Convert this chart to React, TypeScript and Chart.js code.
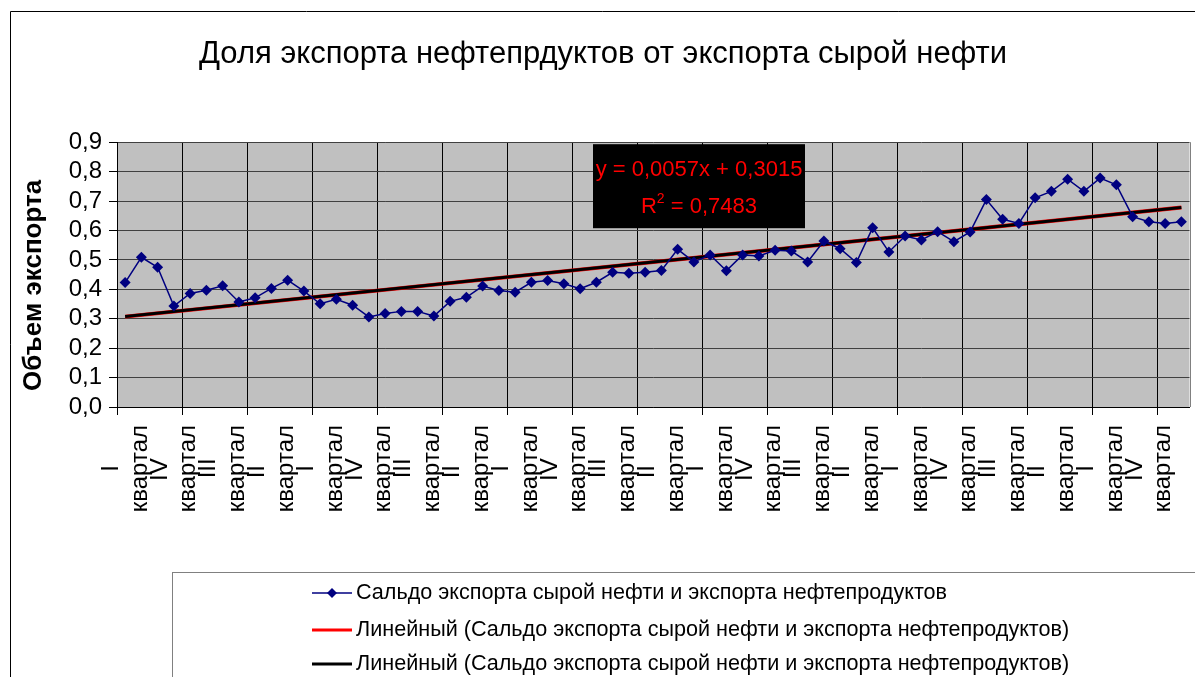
import React, { useEffect, useRef } from "react";
import { Chart, registerables } from "chart.js";

Chart.register(...registerables);

const TITLE = "Доля экспорта нефтепрдуктов от экспорта сырой нефти";
const Y_TITLE = "Объем экспорта";
const SERIES_LABEL = "Сальдо экспорта сырой нефти и экспорта нефтепродуктов";
const TREND_LABEL = "Линейный (Сальдо экспорта сырой нефти и экспорта нефтепродуктов)";
const EQUATION_LINE = "y = 0,0057x + 0,3015";
const R2_VALUE = " = 0,7483";

const CATEGORIES = [
  "I квартал", "II квартал", "III квартал", "IV квартал",
  "I квартал", "II квартал", "III квартал", "IV квартал",
  "I квартал", "II квартал", "III квартал", "IV квартал",
  "I квартал", "II квартал", "III квартал", "IV квартал",
  "I квартал", "II квартал", "III квартал", "IV квартал",
  "I квартал", "II квартал", "III квартал", "IV квартал",
  "I квартал", "II квартал", "III квартал", "IV квартал",
  "I квартал", "II квартал", "III квартал", "IV квартал",
  "I квартал", "II квартал", "III квартал", "IV квартал",
  "I квартал", "II квартал", "III квартал", "IV квартал",
  "I квартал", "II квартал", "III квартал", "IV квартал",
  "I квартал", "II квартал", "III квартал", "IV квартал",
  "I квартал", "II квартал", "III квартал", "IV квартал",
  "I квартал", "II квартал", "III квартал", "IV квартал",
  "I квартал", "II квартал", "III квартал", "IV квартал",
  "I квартал", "II квартал", "III квартал", "IV квартал",
  "I квартал", "II квартал",
];

const VALUES = [
  0.423, 0.509, 0.475, 0.343, 0.386, 0.397, 0.412, 0.357, 0.371, 0.403,
  0.431, 0.394, 0.351, 0.366, 0.346, 0.306, 0.318, 0.325, 0.325, 0.309,
  0.359, 0.373, 0.411, 0.396, 0.390, 0.424, 0.430, 0.419, 0.402, 0.424,
  0.458, 0.455, 0.458, 0.464, 0.536, 0.493, 0.517, 0.463, 0.517, 0.513,
  0.533, 0.530, 0.493, 0.564, 0.538, 0.491, 0.609, 0.527, 0.581, 0.568,
  0.596, 0.562, 0.595, 0.705, 0.638, 0.624, 0.711, 0.733, 0.774, 0.733,
  0.778, 0.755, 0.647, 0.630, 0.624, 0.630,
];

// Linear trend end values (y = 0,0057x + 0,3015 at first and last category)
const TREND_START = 0.3072;
const TREND_END = 0.6777;

const Y_MIN = 0;
const Y_MAX = 0.9;
const Y_STEP = 0.1;

const FONT = "'Liberation Sans', Arial, sans-serif";

function trendData(): (number | null)[] {
  return CATEGORIES.map((_, i) =>
    i === 0 ? TREND_START : i === CATEGORIES.length - 1 ? TREND_END : null
  );
}

const decorPlugin = {
  id: "decor",
  beforeDraw(chart: any) {
    const { ctx, chartArea: a } = chart;
    ctx.save();
    ctx.fillStyle = "#ffffff";
    ctx.fillRect(0, 0, chart.width, chart.height);
    ctx.fillStyle = "#c0c0c0";
    ctx.fillRect(a.left, a.top, a.right - a.left, a.bottom - a.top);
    ctx.restore();
  },
  beforeDatasetsDraw(chart: any) {
    const { ctx, chartArea: a } = chart;
    ctx.save();
    ctx.strokeStyle = "#808080";
    ctx.lineWidth = 1;
    ctx.beginPath();
    ctx.moveTo(Math.round(a.right) + 0.5, a.top);
    ctx.lineTo(Math.round(a.right) + 0.5, a.bottom);
    ctx.stroke();
    ctx.restore();
  },
  afterDraw(chart: any) {
    const { ctx, chartArea: a } = chart;
    ctx.save();
    // outer frame
    ctx.strokeStyle = "#000";
    ctx.lineWidth = 1;
    ctx.beginPath();
    ctx.moveTo(10.5, chart.height);
    ctx.lineTo(10.5, 11.5);
    ctx.lineTo(chart.width, 11.5);
    ctx.stroke();

    // equation box
    const bx = a.left + 476;
    const by = a.top + 2;
    const bw = 212;
    const bh = 84;
    ctx.fillStyle = "#000";
    ctx.fillRect(bx, by, bw, bh);
    ctx.fillStyle = "#ff0000";
    ctx.textBaseline = "middle";
    ctx.textAlign = "center";
    ctx.font = `22px ${FONT}`;
    ctx.fillText(EQUATION_LINE, bx + bw / 2, by + 26);
    const wR = ctx.measureText("R").width;
    const wRest = ctx.measureText(R2_VALUE).width;
    ctx.font = `14px ${FONT}`;
    const w2 = ctx.measureText("2").width;
    const total = wR + w2 + wRest;
    let x = bx + bw / 2 - total / 2;
    ctx.textAlign = "left";
    ctx.font = `22px ${FONT}`;
    ctx.fillText("R", x, by + 63);
    x += wR;
    ctx.font = `14px ${FONT}`;
    ctx.fillText("2", x, by + 55);
    x += w2;
    ctx.font = `22px ${FONT}`;
    ctx.fillText(R2_VALUE, x, by + 63);

    // legend
    const lx = 172.5;
    const ly = 572.5;
    ctx.strokeStyle = "#808080";
    ctx.lineWidth = 1;
    ctx.strokeRect(lx, ly, 1200, 200);
    const rowsY = [593, 630, 664];
    const ds = chart.data.datasets;
    ctx.font = `21.6px ${FONT}`;
    ctx.textAlign = "left";
    ctx.textBaseline = "middle";
    for (let i = 0; i < ds.length; i++) {
      const y = rowsY[i];
      ctx.strokeStyle = ds[i].borderColor;
      ctx.lineWidth = i === 0 ? 1.5 : 3;
      ctx.beginPath();
      ctx.moveTo(312, y);
      ctx.lineTo(352, y);
      ctx.stroke();
      if (i === 0) {
        ctx.fillStyle = ds[i].backgroundColor;
        ctx.beginPath();
        ctx.moveTo(332, y - 5);
        ctx.lineTo(337, y);
        ctx.lineTo(332, y + 5);
        ctx.lineTo(327, y);
        ctx.closePath();
        ctx.fill();
      }
      ctx.fillStyle = "#000";
      ctx.fillText(ds[i].label, 356, y);
    }
    ctx.restore();
  },
};

function padNumeral(n: string): string {
  const spaces = n === "I" || n === "II" ? 6 : 5;
  return n + " ".repeat(spaces);
}

export default function App() {
  const ref = useRef<HTMLCanvasElement | null>(null);

  useEffect(() => {
    if (!ref.current) return;
    const chart = new Chart(ref.current, {
      type: "line",
      data: {
        labels: CATEGORIES,
        datasets: [
          {
            label: SERIES_LABEL,
            data: VALUES,
            borderColor: "#000080",
            backgroundColor: "#000080",
            borderWidth: 1.5,
            pointStyle: "rectRot",
            pointRadius: 5.5,
            pointBorderWidth: 0,
            tension: 0,
            order: 0,
          },
          {
            label: TREND_LABEL,
            data: trendData(),
            borderColor: "#ff0000",
            backgroundColor: "#ff0000",
            borderWidth: 4,
            pointRadius: 0,
            spanGaps: true,
            order: 2,
          },
          {
            label: TREND_LABEL,
            data: trendData(),
            borderColor: "#000000",
            backgroundColor: "#000000",
            borderWidth: 3,
            pointRadius: 0,
            spanGaps: true,
            order: 1,
          },
        ],
      },
      options: {
        responsive: false,
        animation: false,
        devicePixelRatio: 1,
        layout: { padding: { left: 16, right: 5, top: 0, bottom: 0 } },
        plugins: {
          legend: { display: false },
          tooltip: { enabled: false },
          title: {
            display: true,
            text: TITLE,
            color: "#000",
            font: { family: FONT, size: 31, weight: "normal" },
            padding: { top: 36, bottom: 69 },
          },
        },
        scales: {
          x: {
            type: "category",
            offset: true,
            grid: {
              offset: true,
              color: (c: any) => (c.index % 4 === 0 ? "#000" : "rgba(0,0,0,0)"),
              lineWidth: 1,
              tickLength: 8,
              drawTicks: true,
            },
            border: { display: true, color: "#000", width: 1 },
            ticks: {
              autoSkip: false,
              maxRotation: 90,
              minRotation: 90,
              padding: 10,
              labelOffset: -14,
              color: "#000",
              font: { family: FONT, size: 24, lineHeight: 1.2 },
              callback: (_v: any, index: number) => {
                if (index % 3 !== 0) return "";
                const parts = CATEGORIES[index].split(" ");
                return [padNumeral(parts[0]), parts[1]];
              },
            },
            afterFit: (scale: any) => {
              scale.height = 270;
              scale.paddingLeft = 0;
              scale.paddingRight = 0;
            },
          },
          y: {
            min: Y_MIN,
            max: Y_MAX,
            ticks: {
              stepSize: Y_STEP,
              autoSkip: false,
              color: "#000",
              padding: 7,
              font: { family: FONT, size: 24 },
              callback: (v: any) => Number(v).toFixed(1).replace(".", ","),
            },
            grid: {
              color: "#404040",
              lineWidth: 1,
              tickColor: "#000",
              tickLength: 8,
            },
            border: { display: true, color: "#000", width: 1 },
            title: {
              display: true,
              text: Y_TITLE + "   ",
              color: "#000",
              font: { family: FONT, size: 26, weight: "bold" },
              padding: { top: 2, bottom: 0 },
            },
            afterFit: (scale: any) => {
              scale.width = 101;
            },
          },
        },
      },
      plugins: [decorPlugin],
    });
    return () => chart.destroy();
  }, []);

  return (
    <div style={{ position: "absolute", left: 0, top: 0, width: 1195, height: 677 }}>
      <canvas ref={ref} width={1195} height={677} style={{ width: 1195, height: 677 }} />
    </div>
  );
}
